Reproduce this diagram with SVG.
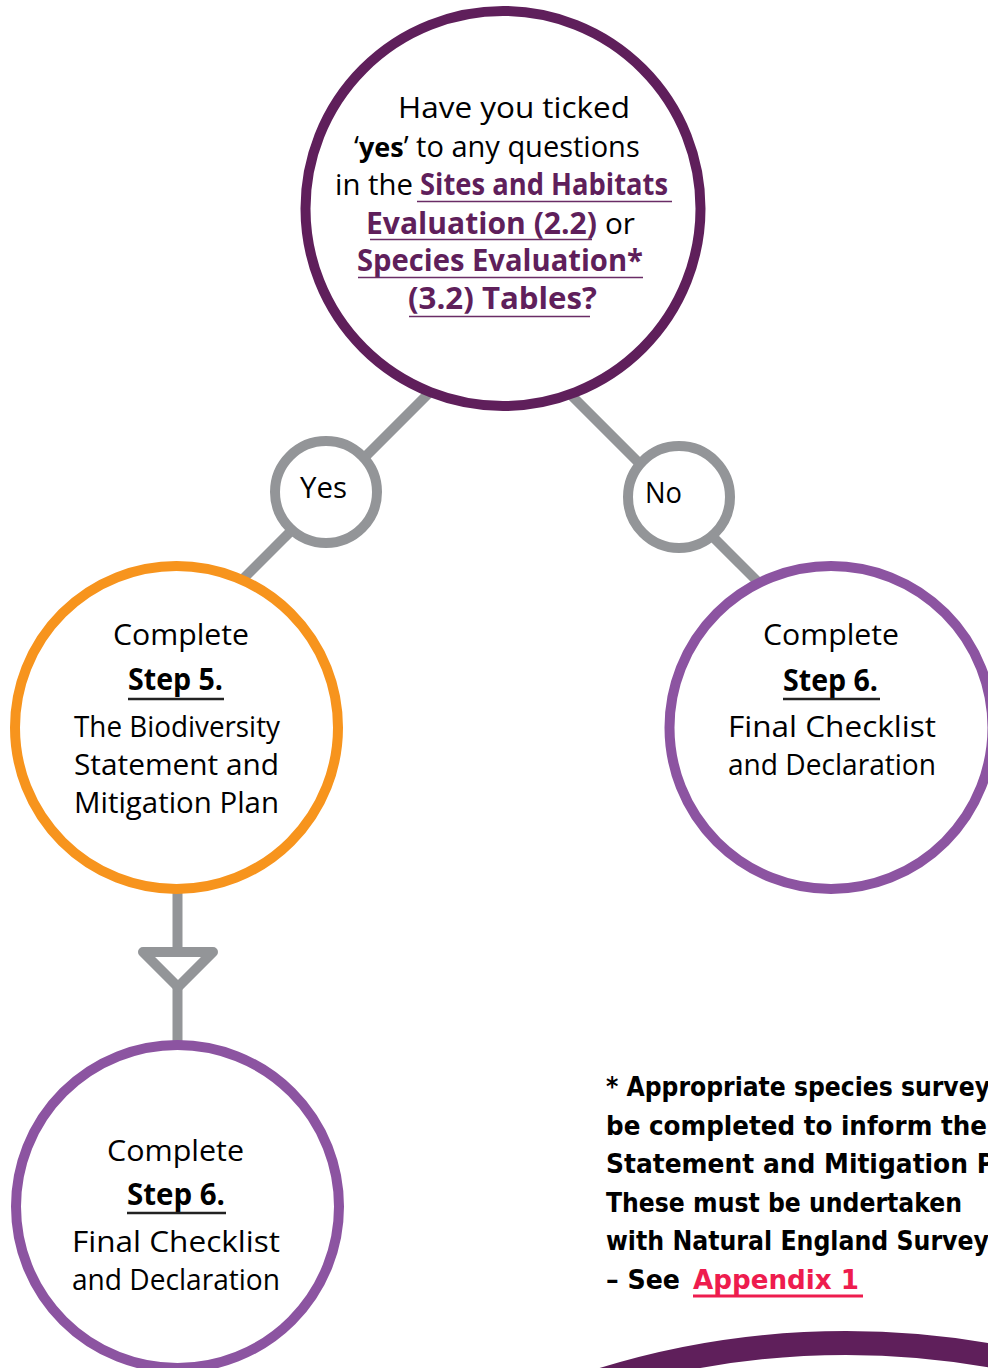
<svg xmlns="http://www.w3.org/2000/svg" width="988" height="1368" viewBox="0 0 988 1368">
<style>
.ring{fill:#fff;stroke-width:10}
.dark{stroke:#5F1F5B}
.gray{stroke:#939598}
.orange{stroke:#F7941D}
.violet{stroke:#8C54A1}
.t{font-family:'Open Sans','DejaVu Sans',sans-serif;font-size:30px;fill:#000}
.b{font-weight:bold}
.lk{fill:#5F1F5B;font-weight:bold}
.ul{stroke:#6A2C66;stroke-width:1.6}
.sul{stroke:#222;stroke-width:2.4}
.fn{font-family:'DejaVu Sans',sans-serif;font-weight:bold;font-size:27px;fill:#000}
.con{stroke:#939598;stroke-width:10;fill:none}
</style>
<rect width="988" height="1368" fill="#fff"/>
<g id="connectors">
<line class="con" x1="440" y1="382" x2="230" y2="592"/>
<line class="con" x1="560" y1="384" x2="772" y2="596"/>
<line class="con" x1="177.5" y1="880" x2="177.5" y2="1050"/>
<polygon class="con" points="143,952 213,952 178,987" style="fill:#fff" stroke-linejoin="round"/>
</g>
<g id="bottom-arc">
<circle class="ring dark" cx="846" cy="2169" r="826" style="stroke-width:24"/>
</g>
<g id="question">
<circle class="ring dark" cx="503" cy="208.5" r="197.5"/>
<text class="t" x="398" y="118" textLength="232" lengthAdjust="spacingAndGlyphs">Have you ticked</text>
<text class="t" x="354" y="157" style="font-size:29px">‘<tspan class="b" style="font-size:27px">yes</tspan>’ to any questions</text>
<text class="t" x="335" y="195" textLength="78" lengthAdjust="spacingAndGlyphs">in the</text>
<text class="t lk" x="420" y="195" textLength="248" lengthAdjust="spacingAndGlyphs">Sites and Habitats</text>
<line class="ul" x1="417" y1="201.5" x2="672" y2="201.5"/>
<text class="t lk" x="366" y="234" textLength="231" lengthAdjust="spacingAndGlyphs">Evaluation (2.2)</text>
<text class="t" x="605" y="234" textLength="30" lengthAdjust="spacingAndGlyphs">or</text>
<line class="ul" x1="370" y1="239.5" x2="592" y2="239.5"/>
<text class="t lk" x="357" y="271" textLength="286" lengthAdjust="spacingAndGlyphs">Species Evaluation*</text>
<line class="ul" x1="358" y1="277.5" x2="643" y2="277.5"/>
<text class="t lk" x="408" y="309" textLength="189" lengthAdjust="spacingAndGlyphs">(3.2) Tables?</text>
<line class="ul" x1="409" y1="316.5" x2="590" y2="316.5"/>
</g>
<g id="yes">
<circle class="ring gray" cx="326" cy="492" r="51"/>
<text class="t" x="300" y="498" textLength="47" lengthAdjust="spacingAndGlyphs">Yes</text>
</g>
<g id="no">
<circle class="ring gray" cx="679" cy="497" r="51"/>
<text class="t" x="645" y="503" textLength="37" lengthAdjust="spacingAndGlyphs">No</text>
</g>
<g id="step5">
<circle class="ring orange" cx="176.5" cy="727.5" r="161.5"/>
<text class="t" x="113" y="645" textLength="136" lengthAdjust="spacingAndGlyphs">Complete</text>
<text class="t b" x="128" y="690" textLength="95" lengthAdjust="spacingAndGlyphs">Step 5.</text>
<line class="sul" x1="128" y1="699" x2="224" y2="699"/>
<text class="t" x="74" y="737" textLength="206" lengthAdjust="spacingAndGlyphs">The Biodiversity</text>
<text class="t" x="74" y="775" textLength="205" lengthAdjust="spacingAndGlyphs">Statement and</text>
<text class="t" x="74" y="813" textLength="205" lengthAdjust="spacingAndGlyphs">Mitigation Plan</text>
</g>
<g id="step6-no">
<circle class="ring violet" cx="831" cy="727.5" r="161.5"/>
<text class="t" x="763" y="645" textLength="136" lengthAdjust="spacingAndGlyphs">Complete</text>
<text class="t b" x="783" y="691" textLength="95" lengthAdjust="spacingAndGlyphs">Step 6.</text>
<line class="sul" x1="783" y1="699" x2="880" y2="699"/>
<text class="t" x="728" y="737" textLength="208" lengthAdjust="spacingAndGlyphs">Final Checklist</text>
<text class="t" x="728" y="775" textLength="208" lengthAdjust="spacingAndGlyphs">and Declaration</text>
</g>
<g id="step6-yes">
<circle class="ring violet" cx="177.5" cy="1206.5" r="161.5"/>
<text class="t" x="107" y="1161" textLength="137" lengthAdjust="spacingAndGlyphs">Complete</text>
<text class="t b" x="127" y="1205" textLength="98" lengthAdjust="spacingAndGlyphs">Step 6.</text>
<line class="sul" x1="127" y1="1213" x2="226" y2="1213"/>
<text class="t" x="72" y="1252" textLength="208" lengthAdjust="spacingAndGlyphs">Final Checklist</text>
<text class="t" x="72" y="1290" textLength="208" lengthAdjust="spacingAndGlyphs">and Declaration</text>
</g>
<g id="footnote">
<text class="fn" x="606" y="1096" textLength="384" lengthAdjust="spacingAndGlyphs">* Appropriate species survey</text>
<text class="fn" x="606" y="1135" textLength="381" lengthAdjust="spacingAndGlyphs">be completed to inform the</text>
<text class="fn" x="606" y="1173" textLength="389" lengthAdjust="spacingAndGlyphs">Statement and Mitigation P</text>
<text class="fn" x="606" y="1212" textLength="356" lengthAdjust="spacingAndGlyphs">These must be undertaken</text>
<text class="fn" x="606" y="1250" textLength="383" lengthAdjust="spacingAndGlyphs">with Natural England Survey</text>
<text class="fn" x="606" y="1289" textLength="74" lengthAdjust="spacingAndGlyphs">– See</text>
<text class="fn" x="693" y="1289" textLength="166" lengthAdjust="spacingAndGlyphs" style="fill:#EE1C4E">Appendix 1</text>
<rect x="693" y="1294.5" width="170" height="3" fill="#EE1C4E"/>
</g>
</svg>
